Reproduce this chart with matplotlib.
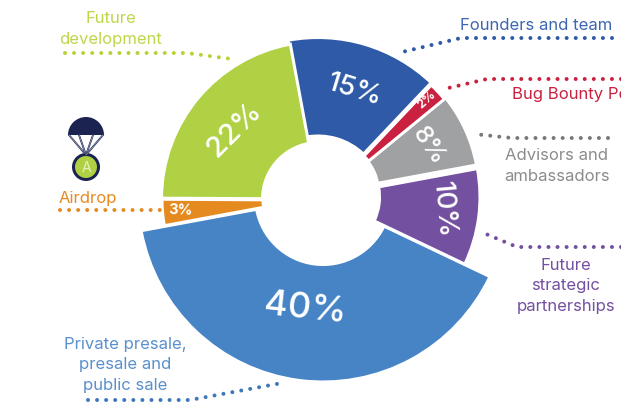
import matplotlib
matplotlib.use('Agg')
import matplotlib.pyplot as plt
from matplotlib.patches import Circle, Wedge

plt.rcParams['font.family'] = ['Inter', 'DejaVu Sans']

W, H = 621, 406

# slices, counter clockwise starting from the big one
names = ['Private presale', 'Future strategic', 'Advisors', 'Bug Bounty', 'Founders', 'Future dev', 'Airdrop']
shares = [40, 10, 8, 2, 15, 22, 3]
pct_labels = ['40%', '10%', '8%', '2%', '15%', '22%', '3%']
colors = ['#4684C6', '#7350A0', '#A0A1A3', '#C9213F', '#2F5AA8', '#AFD143', '#E58A1F']

fig = plt.figure(figsize=(W / 100, H / 100), dpi=100)
ax = fig.add_axes([0, 0, 1, 1])


def py(y):
    # picture rows to axis y
    return H - y


wedges, _ = ax.pie(shares, colors=colors, startangle=190.5, counterclock=True,
                   center=(320, py(205)), radius=158, frame=True,
                   wedgeprops=dict(linewidth=2.2, edgecolor='white'))

# each slice sits on its own centre with its own radius in the original
centers = [(323, 198), (324, 198), (328, 193.5), (326, 197), (318, 203), (319, 200), (303, 201)]
radii = [185, 156, 151, 153, 164.5, 157.5, 141]
holes = [67.5, 55.5, 50.5, 55, 66, 56.5, 40]
for w, c, r, h in zip(wedges, centers, radii, holes):
    w.set_center((c[0], py(c[1])))
    w.set_radius(r)
    w.set_width(r - h)

ax.set_xlim(0, W)
ax.set_ylim(0, H)
ax.set_aspect('equal')
ax.axis('off')

# percent labels on the slices
pct_pos = [(305, 309), (443, 210), (428, 146), (427, 100), (355, 91), (235, 130), (181, 210)]
pct_rot = [-6, -85, -56, 42, -17, 45, -2]
pct_size = [26, 20, 18, 9, 20, 21, 10.5]
pct_weight = ['medium', 'medium', 'medium', 'bold', 'medium', 'medium', 'bold']
for s, p, rot, fs, fw in zip(pct_labels, pct_pos, pct_rot, pct_size, pct_weight):
    ax.text(p[0], py(p[1]), s, color='white', fontsize=fs, rotation=rot, ha='center', va='center',
            rotation_mode='anchor', fontweight=fw)

# outer labels
fs_lab = 12
ls = 1.43
ax.text(111, py(29), 'Future\ndevelopment', color='#BDD74A', fontsize=fs_lab, ha='center', va='center', linespacing=ls)
ax.text(88, py(199), 'Airdrop', color='#E58A1F', fontsize=fs_lab, ha='center', va='center')
ax.text(536, py(25), 'Founders and team', color='#3D66B0', fontsize=fs_lab, ha='center', va='center')
ax.text(512, py(95), 'Bug Bounty Pool', color='#C9213F', fontsize=fs_lab, ha='left', va='center', clip_on=False)
ax.text(557, py(166), 'Advisors and\nambassadors', color='#8A8C8E', fontsize=fs_lab, ha='center', va='center', linespacing=ls)
ax.text(566, py(286), 'Future\nstrategic\npartnerships', color='#7350A0', fontsize=fs_lab, ha='center', va='center', linespacing=ls)
ax.text(125, py(365), 'Private presale,\npresale and\npublic sale', color='#5A90CC', fontsize=fs_lab, ha='center', va='center', linespacing=ls)

# dotted leader lines
leaders = [
    ([65, 187, 232], [54, 54, 60], '#B5D334'),
    ([60, 165], [211, 211], '#E58A1F'),
    ([612, 461, 398], [39, 39, 54], '#2F5AA8'),
    ([621, 487, 444], [80, 80, 90], '#C9213F'),
    ([608, 512, 474], [139, 139, 135], '#77787B'),
    ([621, 517, 486], [248, 248, 235], '#7350A0'),
    ([88, 190, 282], [401, 401, 384], '#3D78BA'),
]
for xs, ys, col in leaders:
    ax.plot(xs, [py(y) for y in ys], color=col, lw=2.9, linestyle=(0, (0.001, 2.25)),
            dash_capstyle='round', solid_joinstyle='round')

# parachute icon
navy = '#1B2350'
ax.add_patch(Wedge((86, py(136)), 18, 0, 180, facecolor=navy, edgecolor='none'))
for x_top in [69, 79, 93, 103]:
    ax.plot([x_top, 86], [py(136), py(156)], color=navy, lw=1.3)
    ax.plot([x_top, 86], [py(136), py(156)], color='#9DA2BC', lw=0.5)
ax.add_patch(Circle((86, py(168)), 14, facecolor=navy, edgecolor='none'))
ax.add_patch(Circle((86, py(168)), 11, facecolor='#AFD143', edgecolor='none'))
ax.text(86, py(168), 'A', color='#E8F0C0', fontsize=10, ha='center', va='center')

fig.savefig('out.png', dpi=100)
